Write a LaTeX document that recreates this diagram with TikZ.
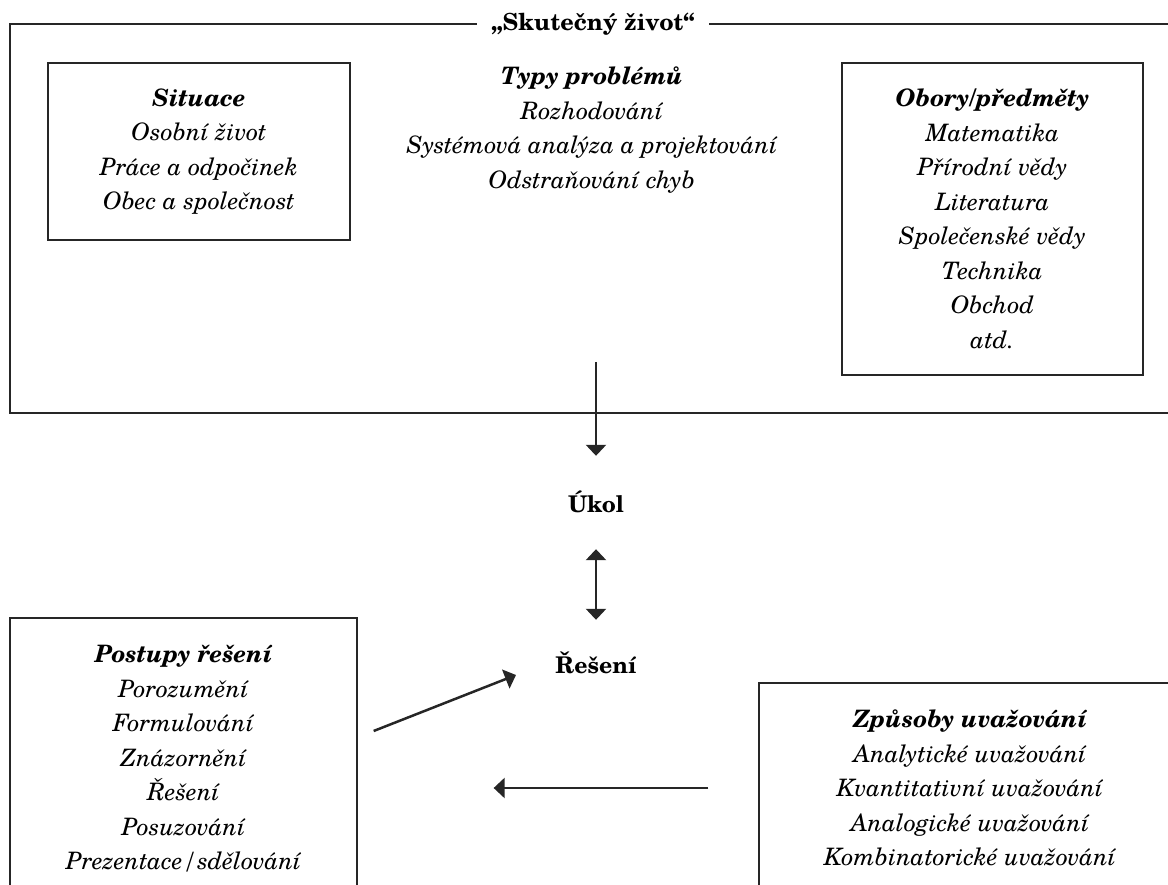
\documentclass[tikz,border=0pt]{standalone}
\usepackage{fontspec}
\setmainfont{texgyreschola}[
  Extension=.otf,
  UprightFont=*-regular,
  ItalicFont=*-italic,
  BoldFont=*-bold,
  BoldItalicFont=*-bolditalic]
\usetikzlibrary{arrows.meta}

\begin{document}
\begin{tikzpicture}[x=1pt, y=-1pt,
  boxline/.style={draw=black!85, line width=1.3pt},
  listbox/.style={boxline, align=center, inner sep=0pt,
    font=\itshape\fontsize{24}{34.5}\selectfont},
  keyword/.style={font=\bfseries\fontsize{23}{27}\selectfont, inner sep=0pt,
    text height=17pt, text depth=0pt, anchor=base},
  flow/.style={-{Triangle[length=11pt,width=20pt]}, line width=2.5pt, draw=black!85},
  bothflow/.style={{Triangle[length=11pt,width=20pt]}-{Triangle[length=11pt,width=20pt]},
    line width=2.5pt, draw=black!85}
]
\useasboundingbox (0,0) rectangle (1168,885);
\clip (0,0) rectangle (1168,885);

% the "real life" frame with its title set into the top edge
\node[draw=black!85, line width=1.5pt, minimum width=1170pt, minimum height=389pt,
  inner sep=0pt] (life) at (595,218.5) {};
\node[fill=white, inner xsep=14pt, inner ysep=2pt,
  font=\bfseries\fontsize{23.5}{27}\selectfont] (lifetitle) at (593,24) {„Skutečný život“};

% contents of the frame
\node[listbox, minimum width=302pt, minimum height=177pt] (situace) at (199,151.5)
  {\textbf{Situace}\\Osobní život\\Práce a odpočinek\\Obec a společnost};
\node[listbox, draw=none] (typy) at (592,130)
  {\textbf{Typy problémů}\\Rozhodování\\Systémová analýza a projektování\\Odstraňování chyb};
\node[listbox, minimum width=301pt, minimum height=312pt] (obory) at (992.5,219)
  {\textbf{Obory/předměty}\\Matematika\\Přírodní vědy\\Literatura\\Společenské vědy\\Technika\\Obchod\\atd.};

% task and solution
\node[keyword] (ukol) at (596,512) {Úkol};
\node[keyword] (reseni) at (596,673) {Řešení};

% lower boxes
\node[listbox, minimum width=347pt, minimum height=282pt] (postupy) at (183.5,759)
  {\textbf{Postupy řešení}\\Porozumění\\Formulování\\Znázornění\\Řešení\\Posuzování\\Prezentace/sdělování};
\node[listbox, minimum width=422pt, minimum height=210pt] (zpusoby) at (970,788)
  {\textbf{Způsoby uvažování}\\Analytické uvažování\\Kvantitativní uvažování\\Analogické uvažování\\Kombinatorické uvažování};

% connectors
\coordinate (src) at (596,362);
\draw[flow, shorten >=39pt] (src) -- (ukol.north);
\draw[bothflow, shorten <=37pt, shorten >=36pt] (ukol.south) -- (reseni.north);
\draw[flow] ([shift={(16,-28)}]postupy.east) -- ([shift={(-80,2)}]reseni.base);
\draw[flow] ([shift={(-50,0)}]zpusoby.west) -- ([shift={(136,29)}]postupy.east);
\end{tikzpicture}
\end{document}
